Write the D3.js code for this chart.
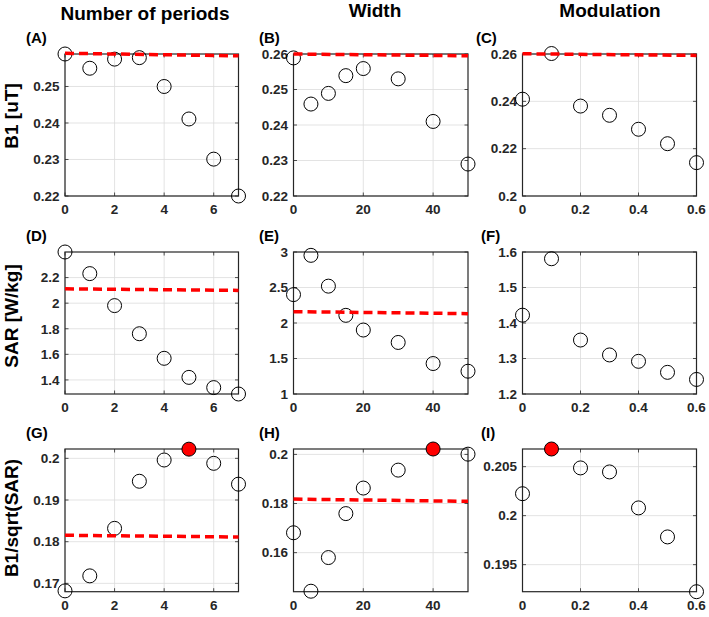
<!DOCTYPE html>
<html>
<head>
<meta charset="utf-8">
<script src="https://cdn.jsdelivr.net/npm/d3@7/dist/d3.min.js"></script>
<style>
  html, body { margin: 0; padding: 0; background: #fff; }
  svg { display: block; font-family: "Liberation Sans", Arial, sans-serif; }
</style>
</head>
<body>
<svg id="chart" width="709" height="617"></svg>
<script>
// ---------- data ----------
const xPeriods = [0, 1, 2, 3, 4, 5, 6, 7];
const xWidth = [0, 5, 10, 15, 20, 30, 40, 50];
const xModulation = [0, 0.1, 0.2, 0.3, 0.4, 0.5, 0.6];

const b1Periods = [0.2589, 0.2550, 0.2575, 0.2579, 0.2500, 0.2411, 0.2301, 0.2200];
const b1Width = [0.2589, 0.2459, 0.2489, 0.2539, 0.2559, 0.2530, 0.2410, 0.2290];
const b1Modulation = [0.2409, 0.2602, 0.2380, 0.2341, 0.2282, 0.2221, 0.2141];

const sarPeriods = [2.40, 2.231, 1.981, 1.761, 1.569, 1.420, 1.340, 1.290];
const sarWidth = [2.40, 2.953, 2.519, 2.108, 1.901, 1.726, 1.429, 1.321];
const sarModulation = [1.422, 1.581, 1.352, 1.310, 1.292, 1.261, 1.241];

const effPeriods = [0.1682, 0.1718, 0.1832, 0.1945, 0.1996, 0.2022, 0.1988, 0.1938];
const effWidth = [0.1681, 0.1443, 0.1580, 0.1759, 0.1863, 0.1936, 0.2022, 0.2001];
const effModulation = [0.20224, 0.2068, 0.20487, 0.20446, 0.20079, 0.19783, 0.19224];

// reference (red dashed) lines: [value at left, value at right]; null = none
const refB1 = [[0.2591, 0.2584], [0.2600, 0.2595], [0.2601, 0.2594]];
const refSAR = [[2.112, 2.100], [2.160, 2.132], null];
const refEff = [[0.18154, 0.18113], [0.1818, 0.1809], null];

// best point index (red filled) per column in the last row
const bestEff = [5, 6, 1];

const colTitles = ["Number of periods", "Width", "Modulation"];
const rowLabels = ["B1 [uT]", "SAR [W/kg]", "B1/sqrt(SAR)"];
const panelLetters = [["(A)", "(B)", "(C)"], ["(D)", "(E)", "(F)"], ["(G)", "(H)", "(I)"]];

const xDomains = [[0, 7], [0, 50], [0, 0.6]];
const xTicks = [[0, 2, 4, 6], [0, 20, 40], [0, 0.2, 0.4, 0.6]];
const xTickLabels = [["0", "2", "4", "6"], ["0", "20", "40"], ["0", "0.2", "0.4", "0.6"]];

const yDomains = [
  [[0.22, 0.2589], [0.22, 0.26], [0.2, 0.26]],
  [[1.29, 2.40], [1, 3], [1.2, 1.6]],
  [[0.168, 0.20224], [0.1441, 0.2022], [0.19224, 0.2068]]
];
const yTicks = [
  [[0.22, 0.23, 0.24, 0.25], [0.22, 0.23, 0.24, 0.25, 0.26], [0.2, 0.22, 0.24, 0.26]],
  [[1.4, 1.6, 1.8, 2, 2.2], [1, 1.5, 2, 2.5, 3], [1.2, 1.3, 1.4, 1.5, 1.6]],
  [[0.17, 0.18, 0.19, 0.2], [0.16, 0.18, 0.2], [0.195, 0.2, 0.205]]
];
const yTickLabels = [
  [["0.22", "0.23", "0.24", "0.25"], ["0.22", "0.23", "0.24", "0.25", "0.26"], ["0.2", "0.22", "0.24", "0.26"]],
  [["1.4", "1.6", "1.8", "2", "2.2"], ["1", "1.5", "2", "2.5", "3"], ["1.2", "1.3", "1.4", "1.5", "1.6"]],
  [["0.17", "0.18", "0.19", "0.2"], ["0.16", "0.18", "0.2"], ["0.195", "0.2", "0.205"]]
];

const xData = [xPeriods, xWidth, xModulation];
const yData = [
  [b1Periods, b1Width, b1Modulation],
  [sarPeriods, sarWidth, sarModulation],
  [effPeriods, effWidth, effModulation]
];
const refLines = [refB1, refSAR, refEff];

// ---------- layout ----------
const colLeft = [65, 293.5, 522.5];
const colWidth = [173.5, 174.5, 174];
const rowTop = [54, 252, 449];
const rowHeight = [142, 142, 142.7];

const svg = d3.select("#chart");
const ink = "#262626";

// column titles
const titleX = [145, 375, 610];
const titleY = [20, 17, 17];
colTitles.forEach((t, c) => {
  svg.append("text")
    .attr("x", titleX[c]).attr("y", titleY[c])
    .attr("text-anchor", "middle")
    .attr("font-size", 19).attr("font-weight", "bold")
    .attr("fill", "#000")
    .text(t);
});

// row labels
const rowLabelY = [116, 316, 518];
rowLabels.forEach((t, r) => {
  svg.append("text")
    .attr("transform", `translate(17.5,${rowLabelY[r]}) rotate(-90)`)
    .attr("text-anchor", "middle")
    .attr("font-size", 19).attr("font-weight", "bold")
    .attr("fill", "#000")
    .text(t);
});

for (let r = 0; r < 3; r++) {
  for (let c = 0; c < 3; c++) {
    const L = colLeft[c], T = rowTop[r], W = colWidth[c], H = rowHeight[r];
    const x = d3.scaleLinear().domain(xDomains[c]).range([L, L + W]);
    const y = d3.scaleLinear().domain(yDomains[r][c]).range([T + H, T]);
    const g = svg.append("g");

    // panel letter
    g.append("text")
      .attr("x", c === 0 ? 26 : (c === 1 ? 259 : 476 + (r > 0 ? 5 : 0)))
      .attr("y", T - 11)
      .attr("font-size", 15).attr("font-weight", "bold").attr("fill", "#000")
      .text(panelLetters[r][c]);

    // background
    g.append("rect").attr("x", L).attr("y", T).attr("width", W).attr("height", H)
      .attr("fill", "#fff");

    // grid
    g.selectAll(".gx").data(xTicks[c]).enter().append("line")
      .attr("x1", d => x(d)).attr("x2", d => x(d))
      .attr("y1", T).attr("y2", T + H)
      .attr("stroke", "#dcdcdc").attr("stroke-width", 0.8);
    g.selectAll(".gy").data(yTicks[r][c]).enter().append("line")
      .attr("x1", L).attr("x2", L + W)
      .attr("y1", d => y(d)).attr("y2", d => y(d))
      .attr("stroke", "#dcdcdc").attr("stroke-width", 0.8);

    // inward ticks on all four sides
    const tl = 3.5;
    g.selectAll(".tx").data(xTicks[c]).enter().append("path")
      .attr("d", d => `M${x(d)},${T + H}v${-tl}M${x(d)},${T}v${tl}`)
      .attr("stroke", ink).attr("stroke-width", 0.8);
    g.selectAll(".ty").data(yTicks[r][c]).enter().append("path")
      .attr("d", d => `M${L},${y(d)}h${tl}M${L + W},${y(d)}h${-tl}`)
      .attr("stroke", ink).attr("stroke-width", 0.8);

    // box
    g.append("rect").attr("x", L).attr("y", T).attr("width", W).attr("height", H)
      .attr("fill", "none").attr("stroke", ink).attr("stroke-width", 1.2);

    // tick labels
    g.selectAll(".lx").data(xTicks[c]).enter().append("text")
      .attr("x", d => x(d)).attr("y", T + H + 18)
      .attr("text-anchor", "middle")
      .attr("font-size", 13.5).attr("font-weight", "bold").attr("fill", ink)
      .text((d, i) => xTickLabels[c][i]);
    g.selectAll(".ly").data(yTicks[r][c]).enter().append("text")
      .attr("x", L - 5.5).attr("y", d => y(d) + 4.8)
      .attr("text-anchor", "end")
      .attr("font-size", 13.5).attr("font-weight", "bold").attr("fill", ink)
      .text((d, i) => yTickLabels[r][c][i]);

    // points
    const pts = xData[c].map((xv, i) => ({ x: xv, y: yData[r][c][i], i }));
    g.selectAll(".pt").data(pts).enter().append("circle")
      .attr("cx", d => x(d.x)).attr("cy", d => y(d.y))
      .attr("r", 7)
      .attr("fill", d => (r === 2 && d.i === bestEff[c]) ? "#ff0000" : "none")
      .attr("stroke", "#000").attr("stroke-width", 1);

    // reference dashed line
    const ref = refLines[r][c];
    if (ref) {
      g.append("line")
        .attr("x1", x(xDomains[c][0])).attr("x2", x(xDomains[c][1]))
        .attr("y1", y(ref[0])).attr("y2", y(ref[1]))
        .attr("stroke", "#ff0000").attr("stroke-width", 3.5)
        .attr("stroke-dasharray", "9,5");
    }
  }
}
</script>
</body>
</html>
